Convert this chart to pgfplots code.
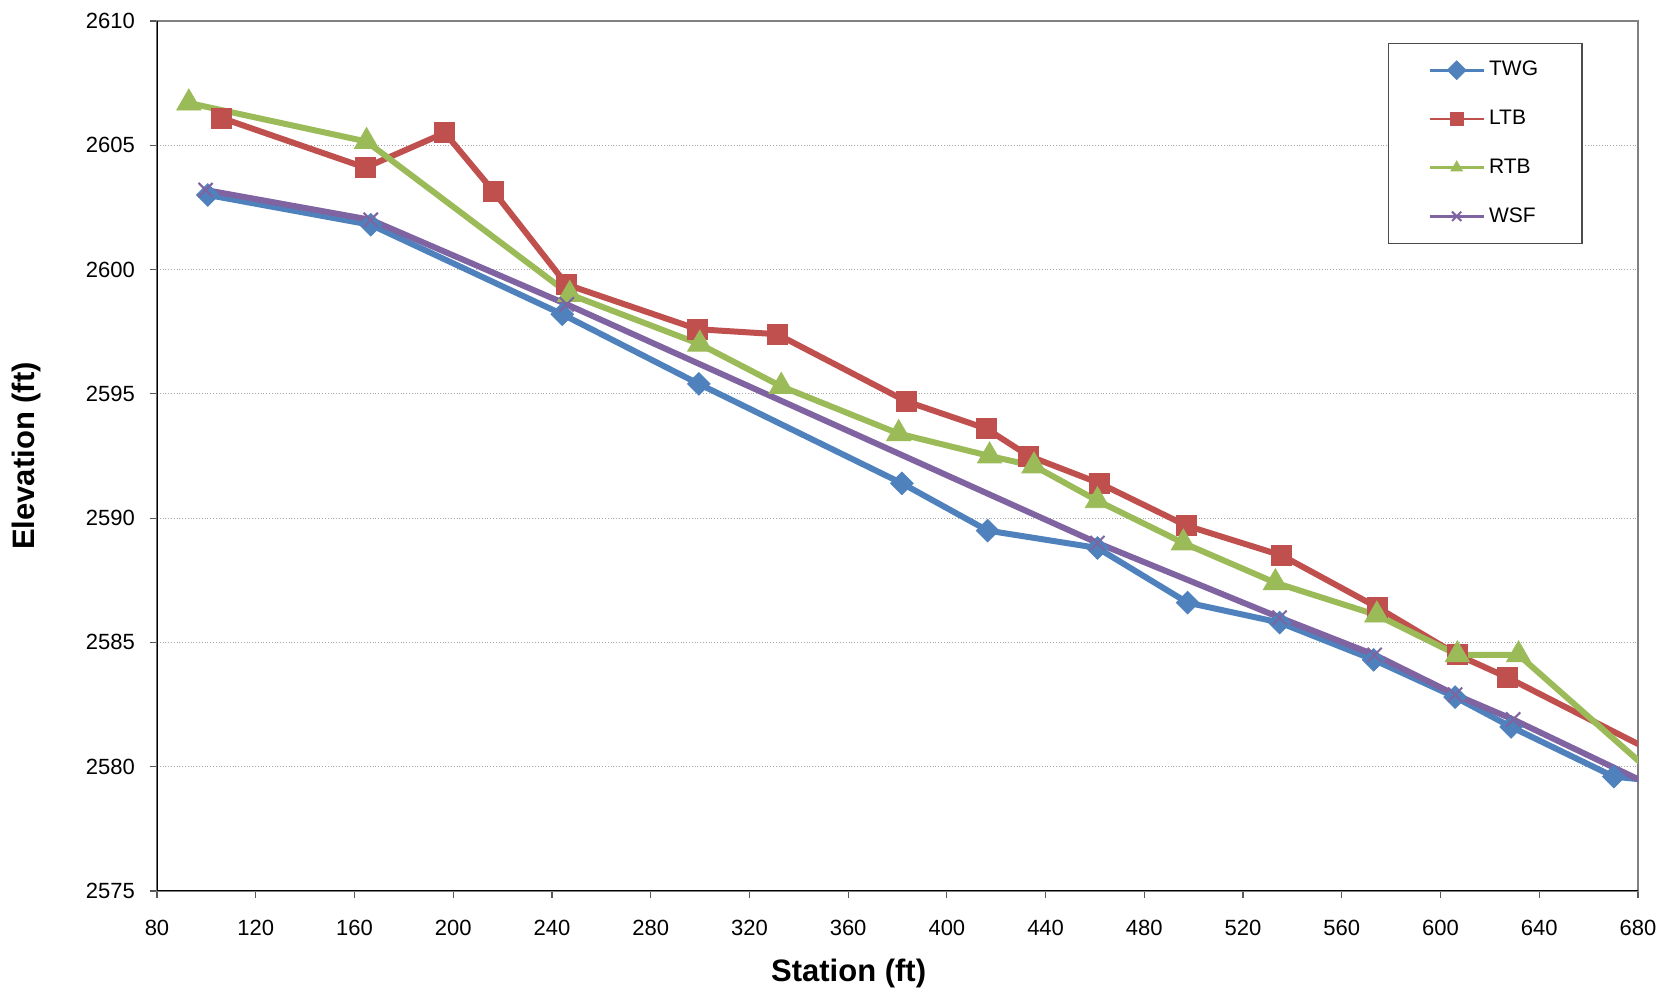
\documentclass[border=0pt]{standalone}
\usepackage{fontspec}
\setmainfont{Liberation Sans}
\usepackage{pgfplots}
\pgfplotsset{compat=1.18}
\definecolor{cTWG}{HTML}{4F81BD}
\definecolor{cLTB}{HTML}{C0504D}
\definecolor{cRTB}{HTML}{9BBB59}
\definecolor{cWSF}{HTML}{8064A2}
\begin{document}
\begin{tikzpicture}
\begin{axis}[
  scale only axis,
  width=740.5pt, height=435pt,
  xmin=80, xmax=680, ymin=2575, ymax=2610,
  xtick={80,120,...,680},
  ytick={2575,2580,...,2610},
  /pgf/number format/assume math mode=true,
  /pgf/number format/1000 sep={},
  tick label style={font=\fontsize{11}{13}\selectfont},
  xticklabel style={yshift=-7.5pt},
  yticklabel style={xshift=-4pt},
  tick align=outside,
  xtick pos=left, ytick pos=left,
  major tick length=3.5pt,
  tick style={black!65, line width=0.6pt},
  ymajorgrids,
  major grid style={black!35, densely dotted, line width=0.5pt},
  axis line style={black!50, line width=0.9pt},
  xlabel={\bfseries Station (ft)},
  ylabel={\bfseries Elevation (ft)},
  label style={font=\fontsize{15.5}{18}\selectfont},
  xlabel style={at={(axis description cs:0.467,-0.095)}, anchor=center},
  ylabel style={at={(axis description cs:-0.0878,0.5)}, anchor=center},
  legend style={at={(0.831,0.975)}, anchor=north west, draw=black!70, line width=0.6pt,
    fill=white, font=\fontsize{10.5}{12}\selectfont, row sep=11.6pt,
    inner xsep=20pt, inner ysep=7pt},
  legend cell align=left,
  legend image code/.code={\draw[mark repeat=2,mark phase=2,line width=1.4pt,mark size=3.3pt]
    plot coordinates {(0pt,0pt) (13.5pt,0pt) (27pt,0pt)};},
  every axis plot/.append style={line width=3pt},
]
\addplot[color=cTWG, mark=square*, mark size=4pt, mark options={rotate=45, solid, line width=0.4pt}] coordinates {
(100.6,2603.0) (166.6,2601.8) (244.2,2598.2) (299.5,2595.4) (381.8,2591.4) (416.5,2589.5) (461,2588.8) (497.5,2586.6) (534.8,2585.8) (572.9,2584.3) (605.9,2582.8) (628.6,2581.6) (670.2,2579.6) (700,2579.3)
};
\addlegendentry{TWG}
\addplot[color=cLTB, mark=square*, mark size=5pt, mark options={solid, line width=0.4pt}] coordinates {
(106.1,2606.1) (164.4,2604.1) (196.6,2605.5) (216.3,2603.15) (245.9,2599.4) (299,2597.6) (331.2,2597.4) (383.5,2594.7) (416,2593.6) (433.2,2592.5) (461.9,2591.4) (497,2589.7) (535.6,2588.5) (574.6,2586.4) (606.8,2584.5) (626.9,2583.6) (700,2579.9)
};
\addlegendentry{LTB}
\addplot[color=cRTB, mark=triangle*, mark size=7pt, mark options={solid, line width=0.4pt}, legend image post style={mark size=4pt}] coordinates {
(92.9,2606.7) (164.9,2605.15) (247.2,2599.0) (299.9,2597.0) (332.9,2595.3) (380.5,2593.4) (417.3,2592.5) (435.3,2592.1) (461,2590.7) (495.8,2589.0) (533.1,2587.4) (574.2,2586.1) (606.8,2584.5) (631.6,2584.5) (700,2578.5)
};
\addlegendentry{RTB}
\addplot[color=cWSF, mark=x, mark size=5pt, mark options={solid, line width=1pt}] coordinates {
(99.7,2603.2) (166.6,2602.0) (246,2598.6) (461,2589.0) (534.8,2586.0) (573.3,2584.5) (605.9,2582.9) (629.4,2581.9) (700,2578.55)
};
\addlegendentry{WSF}
\draw[black, line width=1pt] (rel axis cs:0,1) -- (rel axis cs:0,0) -- (rel axis cs:1,0);
\end{axis}
\pgfresetboundingbox
\path ([xshift=-78.5pt,yshift=-53pt]current axis.south west) rectangle ([xshift=10.5pt,yshift=10.5pt]current axis.north east);
\end{tikzpicture}
\end{document}
